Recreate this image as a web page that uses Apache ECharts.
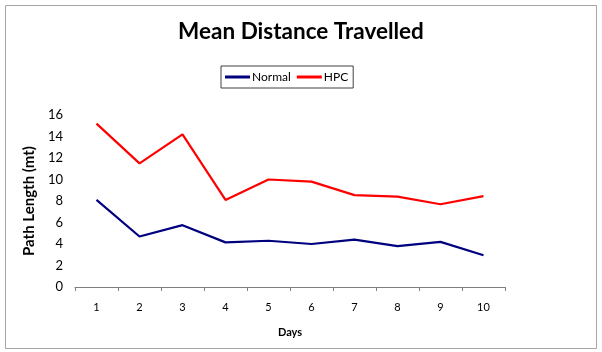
<!DOCTYPE html>
<html>
<head>
<meta charset="utf-8">
<script src="https://cdn.jsdelivr.net/npm/echarts@6/dist/echarts.min.js"></script>
<style>
  html, body { margin: 0; padding: 0; background: #fff; }
  #chart { width: 602px; height: 352px; }
</style>
</head>
<body>
<div id="chart"></div>
<script>
const days = ['1', '2', '3', '4', '5', '6', '7', '8', '9', '10']
const normal = [8.1, 4.7, 5.75, 4.15, 4.3, 4.0, 4.4, 3.8, 4.2, 2.95]
const hpc = [15.2, 11.5, 14.2, 8.1, 10.0, 9.8, 8.55, 8.4, 7.7, 8.45]

const font = 'Lato, "Open Sans", sans-serif'

const myChart = echarts.init(document.getElementById('chart'))

myChart.setOption({
    backgroundColor: '#fff',
    animation: false,
    graphic: [{
        type: 'rect',
        shape: { x: 5.5, y: 5.5, width: 591, height: 343 },
        style: { fill: 'none', stroke: '#a6a6a6', lineWidth: 1 },
        silent: true
    }],
    title: {
        text: 'Mean Distance Travelled',
        left: 'center',
        top: 15,
        textStyle: { fontFamily: font, fontSize: 22.5, fontWeight: 'bold', color: '#000' }
    },
    legend: {
        data: ['Normal', 'HPC'],
        left: 221,
        top: 66,
        borderColor: '#404040',
        borderWidth: 1,
        padding: [5, 5, 5, 4],
        itemGap: 6,
        itemWidth: 25,
        itemHeight: 3,
        icon: 'rect',
        textStyle: { fontFamily: font, fontSize: 12, color: '#000', padding: [0, 0, 0, -3] }
    },
    grid: { left: 75, right: 97, top: 115, bottom: 65 },
    xAxis: {
        type: 'category',
        data: days,
        boundaryGap: true,
        name: 'Days',
        nameLocation: 'middle',
        nameGap: 40,
        nameTextStyle: { fontFamily: font, fontSize: 11, fontWeight: 'bold', color: '#000' },
        axisLine: { lineStyle: { color: '#7f7f7f' } },
        axisTick: { show: true, length: 4, inside: false, lineStyle: { color: '#7f7f7f' } },
        axisLabel: { fontFamily: font, fontSize: 11, color: '#000', margin: 15 }
    },
    yAxis: {
        type: 'value',
        min: 0,
        max: 16,
        interval: 2,
        name: 'Path Length (mt)',
        nameLocation: 'middle',
        nameGap: 37,
        nameTextStyle: { fontFamily: font, fontSize: 15, fontWeight: 'bold', color: '#000' },
        axisLine: { show: false },
        axisTick: { show: false },
        splitLine: { show: false },
        axisLabel: { fontFamily: font, fontSize: 13, color: '#000', margin: 12 }
    },
    series: [{
        name: 'Normal',
        type: 'line',
        data: normal,
        symbol: 'none',
        color: '#00007f',
        lineStyle: { width: 2.2, color: '#00007f' }
    }, {
        name: 'HPC',
        type: 'line',
        data: hpc,
        symbol: 'none',
        color: '#ff0000',
        lineStyle: { width: 2.2, color: '#ff0000' }
    }]
})
</script>
</body>
</html>
